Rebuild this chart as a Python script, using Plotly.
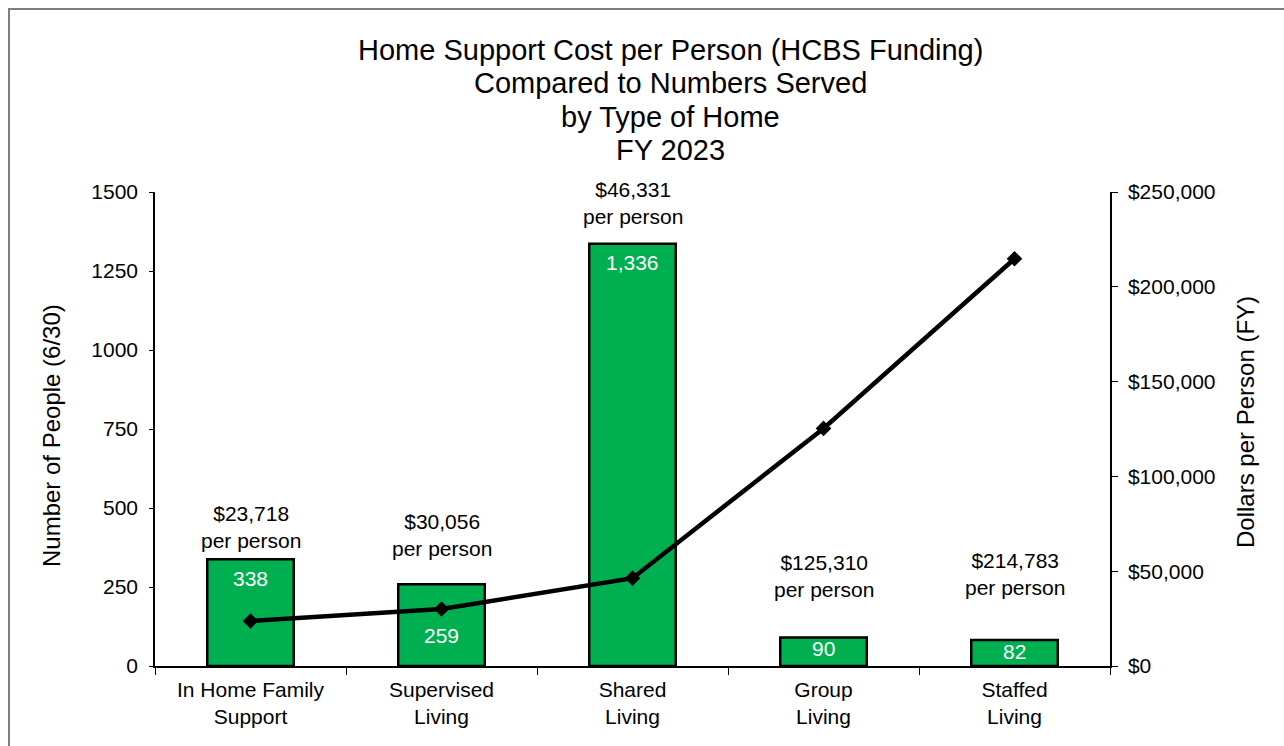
import plotly.graph_objects as go

# data
CATEGORIES = ["In Home Family<br>Support", "Supervised<br>Living", "Shared<br>Living",
              "Group<br>Living", "Staffed<br>Living"]
PEOPLE = [338, 259, 1336, 90, 82]
COST_PER_PERSON = [23718, 30056, 46331, 125310, 214783]

TITLE_LINES = ["Home Support Cost per Person (HCBS Funding)", "Compared to Numbers Served",
               "by Type of Home", "FY 2023"]

# label placement (left-axis units), tuned to the reference
COST_LABEL_Y = [440, 413, 1464, 284, 291]
COUNT_LABEL_Y = [278, 98, 1278, 54, 46]

GREEN = "#00B050"
FONT = "Liberation Sans, Arial, sans-serif"

W, H = 1284, 746
L, R, T, B = 155, 174, 192, 80
PW, PH = W - L - R, H - T - B


def px_x(px):
    return (px - L) / PW


def px_y(py):
    return (H - B - py) / PH


fig = go.Figure()

fig.add_trace(go.Bar(
    x=CATEGORIES, y=PEOPLE,
    marker=dict(color=GREEN, line=dict(color="black", width=2.5)),
    name="People", hoverinfo="x+y",
))

fig.add_trace(go.Scatter(
    x=CATEGORIES, y=COST_PER_PERSON, yaxis="y2",
    mode="lines+markers",
    line=dict(color="black", width=4.5),
    marker=dict(symbol="diamond", size=12, color="black"),
    name="Cost per person",
))

annotations = []
for i, line in enumerate(TITLE_LINES):
    annotations.append(dict(
        text=line, xref="paper", yref="paper", x=px_x(670), y=px_y(50 + 33.5 * i),
        xanchor="center", yanchor="middle", showarrow=False,
        font=dict(size=29, color="black"),
    ))

for cat, cost, ly in zip(CATEGORIES, COST_PER_PERSON, COST_LABEL_Y):
    annotations.append(dict(
        text=f"${cost:,}<br>per person", x=cat, y=ly, xref="x", yref="y",
        showarrow=False, yanchor="middle", font=dict(size=21, color="black"),
    ))

for cat, n, ly in zip(CATEGORIES, PEOPLE, COUNT_LABEL_Y):
    annotations.append(dict(
        text=f"{n:,}", x=cat, y=ly, xref="x", yref="y",
        showarrow=False, yanchor="middle", font=dict(size=21, color="white"),
    ))

annotations.append(dict(
    text="Number of People (6/30)", xref="paper", yref="paper",
    x=px_x(51), y=px_y(436), textangle=-90, showarrow=False,
    xanchor="center", yanchor="middle", font=dict(size=24, color="black"),
))
annotations.append(dict(
    text="Dollars per Person (FY)", xref="paper", yref="paper",
    x=px_x(1245), y=px_y(422), textangle=-90, showarrow=False,
    xanchor="center", yanchor="middle", font=dict(size=24, color="black"),
))

axis_common = dict(showgrid=False, zeroline=False, linecolor="black", tickcolor="black")

fig.update_layout(
    width=W, height=H,
    margin=dict(l=L, r=R, t=T, b=B),
    paper_bgcolor="white", plot_bgcolor="white",
    font=dict(family=FONT, size=21, color="black"),
    showlegend=False,
    bargap=0.547,
    xaxis=dict(
        **axis_common, showline=True, linewidth=1.5,
        type="category", range=[-0.5, 4.5], tickson="boundaries",
        ticks="outside", ticklen=7, tickwidth=1.2, ticklabelstandoff=4,
    ),
    xaxis3=dict(
        showgrid=False, zeroline=False, overlaying="x", anchor="y",
        type="category", categoryarray=CATEGORIES, categoryorder="array",
        range=[-0.5, 4.5], tickson="boundaries",
        ticks="inside", ticklen=6, tickwidth=1.2, tickcolor="black",
        showticklabels=False, showline=False,
    ),
    yaxis=dict(
        **axis_common, showline=True, linewidth=1.5,
        range=[0, 1500], dtick=250, tickformat="d",
        ticks="outside", ticklen=4, tickwidth=1.2, ticklabelstandoff=7,
    ),
    yaxis3=dict(
        showgrid=False, zeroline=False, overlaying="y", side="left", anchor="x",
        range=[0, 1500], dtick=250, ticks="inside", ticklen=5, tickwidth=1.2,
        tickcolor="black", showticklabels=False, showline=False,
    ),
    yaxis2=dict(
        **axis_common, showline=True, linewidth=1.5,
        overlaying="y", side="right", anchor="x",
        range=[0, 250000], dtick=50000, tickprefix="$", tickformat=",d",
        ticks="outside", ticklen=6, tickwidth=1.2, ticklabelstandoff=6,
    ),
    yaxis4=dict(
        showgrid=False, zeroline=False, overlaying="y", side="right", anchor="x",
        range=[0, 250000], dtick=50000, ticks="inside", ticklen=6, tickwidth=1.2,
        tickcolor="black", showticklabels=False, showline=False,
    ),
    annotations=annotations,
    shapes=[dict(
        type="rect", xref="paper", yref="paper",
        x0=px_x(9), x1=px_x(1300), y0=px_y(760), y1=px_y(9),
        line=dict(color="#7f7f7f", width=2), fillcolor="rgba(0,0,0,0)", layer="below",
    )],
)

# drop the default page margin so the figure sits at the window origin
fig.write_html(
    "out.html",
    config={"displayModeBar": False},
    post_script="document.body.style.margin = '0';",
)
